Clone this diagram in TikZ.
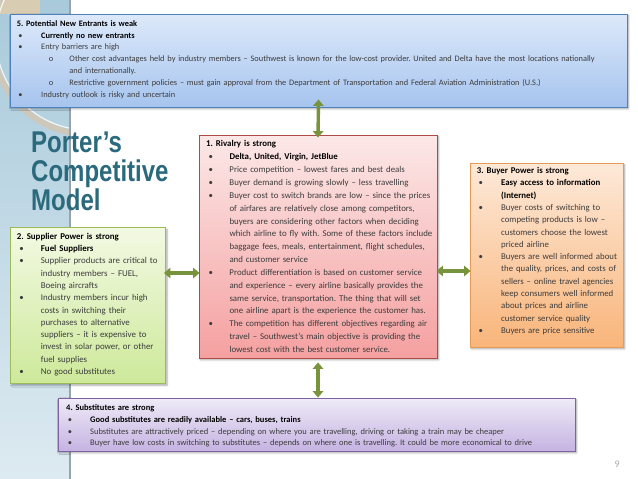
\documentclass[tikz,border=0pt]{standalone}
\usepackage{fontspec}
\setmainfont{Carlito}
\newfontfamily\titlefont[FakeStretch=0.8]{Liberation Sans}
\usetikzlibrary{arrows.meta,shadows.blur}
\frenchspacing
\definecolor{bandtop}{HTML}{A9CADB}
\definecolor{bandbot}{HTML}{DDEAF1}
\definecolor{bandline}{HTML}{98A3AA}
\definecolor{ringcol}{HTML}{CEC8BA}
\definecolor{tancol}{HTML}{D8CDB2}
\definecolor{bAtop}{HTML}{DDE9FA}\definecolor{bAbot}{HTML}{A6C4EE}\definecolor{bAline}{HTML}{4F81BD}
\definecolor{bBtop}{HTML}{FCE8E8}\definecolor{bBbot}{HTML}{F5A0A0}\definecolor{bBline}{HTML}{B04A47}
\definecolor{bCtop}{HTML}{F3F9E3}\definecolor{bCbot}{HTML}{CDE99A}\definecolor{bCline}{HTML}{9BBB59}
\definecolor{bDtop}{HTML}{FDE9D9}\definecolor{bDbot}{HTML}{F9B57A}\definecolor{bDline}{HTML}{E59A55}
\definecolor{bEtop}{HTML}{EFEBF7}\definecolor{bEbot}{HTML}{C5B3E2}\definecolor{bEline}{HTML}{7F63A1}
\definecolor{arrowgreen}{HTML}{77933C}
\definecolor{titleteal}{HTML}{2B6A7C}
\definecolor{bodytext}{HTML}{3C3C3C}
\definecolor{pagenum}{HTML}{A6A6A6}
\newcommand{\pitem}[4]{\par\hangindent=#2\hangafter=1\noindent\hspace*{#1}\makebox[\dimexpr#2-#1\relax][l]{#3}#4\par}
\newcommand{\nl}{\hfil\break}
\newcommand{\firstline}{\rule{0pt}{8pt}}
\tikzset{
  panel/.style={draw=#1line, line width=0.9pt, top color=#1top, bottom color=#1bot, inner sep=0pt,
    blur shadow={shadow xshift=1.5pt, shadow yshift=-1.8pt, shadow blur steps=5, shadow opacity=35}},
  txt/.style={anchor=north west, inner sep=0pt, align=left, text=bodytext},
  arr/.style={arrowgreen, line width=3.4pt, {Triangle[length=6.5pt,width=10.5pt]}-{Triangle[length=6.5pt,width=10.5pt]}},
}
\begin{document}
\begin{tikzpicture}[x=1pt,y=-1pt]
\useasboundingbox (0,0) rectangle (638,479);
% background band
\fill[top color=bandtop, bottom color=bandbot] (0,0) rectangle (70,479);
\begin{scope}
  \clip (0,0) rectangle (70,479);
  \fill[tancol] (0,0) rectangle (40,14);
  \draw[ringcol, line width=6pt] (88,38) circle[radius=96];
  \draw[white, line width=1.2pt, opacity=0.8] (88,38) circle[radius=92];
\end{scope}
\draw[bandline, line width=1.5pt] (70,0) -- (70,479);
% title
\node[anchor=north west, inner sep=0pt, align=left, text=titleteal,
      font=\titlefont\bfseries\fontsize{30}{29}\selectfont] (title) at (31,128)
  {\rule{0pt}{24pt}Porter’s\\Competitive\\Model};
% panels
\node[panel=bA, minimum width=617pt, minimum height=93pt] (b5) at (318.5,60.5) {};
\node[panel=bB, minimum width=238pt, minimum height=223pt] (b1) at (318,246.5) {};
\node[panel=bC, minimum width=155pt, minimum height=156pt] (b2) at (88,305.5) {};
\node[panel=bD, minimum width=153pt, minimum height=184pt] (b3) at (546.5,255) {};
\node[panel=bE, minimum width=517pt, minimum height=53pt] (b4) at (316.5,424.5) {};
% texts
\node[txt, text width=615pt, font=\fontsize{8.35}{11.9}\selectfont] (t5) at (16.7,18) {%
\firstline\textcolor{black}{\textbf{5. Potential New Entrants is weak}}\par
\pitem{1.5pt}{24.3pt}{•}{\textcolor{black}{\textbf{Currently no new entrants}}}
\pitem{1.5pt}{24.3pt}{•}{Entry barriers are high}
\pitem{32pt}{52.6pt}{o}{Other cost advantages held by industry members – Southwest is known for the low-cost provider. United and Delta have the most locations nationally\nl and internationally.}
\pitem{32pt}{52.6pt}{o}{Restrictive government policies – must gain approval from the Department of Transportation and Federal Aviation Administration (U.S.)}
\pitem{1.5pt}{24.3pt}{•}{Industry outlook is risky and uncertain}};
\node[txt, text width=260pt, font=\fontsize{8.85}{12.85}\selectfont] (t1) at (206,138.7) {%
\firstline\textcolor{black}{\textbf{1. Rivalry is strong}}\par
\pitem{2.5pt}{23.3pt}{•}{\textcolor{black}{\textbf{Delta, United, Virgin, JetBlue}}}
\pitem{2.5pt}{23.3pt}{•}{Price competition – lowest fares and best deals}
\pitem{2.5pt}{23.3pt}{•}{Buyer demand is growing slowly – less travelling}
\pitem{2.5pt}{23.3pt}{•}{Buyer cost to switch brands are low – since the prices\nl of airfares are relatively close among competitors,\nl buyers are considering other factors when deciding\nl which airline to fly with. Some of these factors include\nl baggage fees, meals, entertainment, flight schedules,\nl and customer service}
\pitem{2.5pt}{23.3pt}{•}{Product differentiation is based on customer service\nl and experience – every airline basically provides the\nl same service, transportation. The thing that will set\nl one airline apart is the experience the customer has.}
\pitem{2.5pt}{23.3pt}{•}{The competition has different objectives regarding air\nl travel – Southwest’s main objective is providing the\nl lowest cost with the best customer service.}};
\node[txt, text width=180pt, font=\fontsize{8.9}{12.3}\selectfont] (t2) at (16.7,231) {%
\firstline\textcolor{black}{\textbf{2. Supplier Power is strong}}\par
\pitem{2.5pt}{24pt}{•}{\textcolor{black}{\textbf{Fuel Suppliers}}}
\pitem{2.5pt}{24pt}{•}{Supplier products are critical to\nl industry members – FUEL,\nl Boeing aircrafts}
\pitem{2.5pt}{24pt}{•}{Industry members incur high\nl costs in switching their\nl purchases to alternative\nl suppliers – it is expensive to\nl invest in solar power, or other\nl fuel supplies}
\pitem{2.5pt}{24pt}{•}{No good substitutes}};
\node[txt, text width=180pt, font=\fontsize{8.8}{12.3}\selectfont] (t3) at (476.7,165.3) {%
\firstline\textcolor{black}{\textbf{3. Buyer Power is strong}}\par
\pitem{1.6pt}{24.3pt}{•}{\textcolor{black}{\textbf{Easy access to information\nl (Internet)}}}
\pitem{1.6pt}{24.3pt}{•}{Buyer costs of switching to\nl competing products is low –\nl customers choose the lowest\nl priced airline}
\pitem{1.6pt}{24.3pt}{•}{Buyers are well informed about\nl the quality, prices, and costs of\nl sellers – online travel agencies\nl keep consumers well informed\nl about prices and airline\nl customer service quality}
\pitem{1.6pt}{24.3pt}{•}{Buyers are price sensitive}};
\node[txt, text width=540pt, font=\fontsize{8.5}{11.9}\selectfont] (t4) at (66,402) {%
\firstline\textcolor{black}{\textbf{4. Substitutes are strong}}\par
\pitem{1.7pt}{24pt}{•}{\textcolor{black}{\textbf{Good substitutes are readily available – cars, buses, trains}}}
\pitem{1.7pt}{24pt}{•}{Substitutes are attractively priced – depending on where you are travelling, driving or taking a train may be cheaper}
\pitem{1.7pt}{24pt}{•}{Buyer have low costs in switching to substitutes – depends on where one is travelling. It could be more economical to drive}};
% arrows
\coordinate (ayl) at (0,273);
\coordinate (ayr) at (0,271);
\draw[arr] ([yshift=8pt]b5.south) -- ([yshift=-3pt]b1.north);
\draw[arr] ([yshift=-4pt]b1.south) -- (b1.south |- b4.north);
\draw[arr] ([xshift=-2pt]b2.east |- ayl) -- ([xshift=1pt]b1.west |- ayl);
\draw[arr] ([xshift=-1pt]b1.east |- ayr) -- ([xshift=1pt]b3.west |- ayr);
% page number
\node[anchor=base west, inner sep=0pt, text=pagenum, font=\fontsize{10}{12}\selectfont] (pg) at (614.5,467) {9};
\end{tikzpicture}
\end{document}
